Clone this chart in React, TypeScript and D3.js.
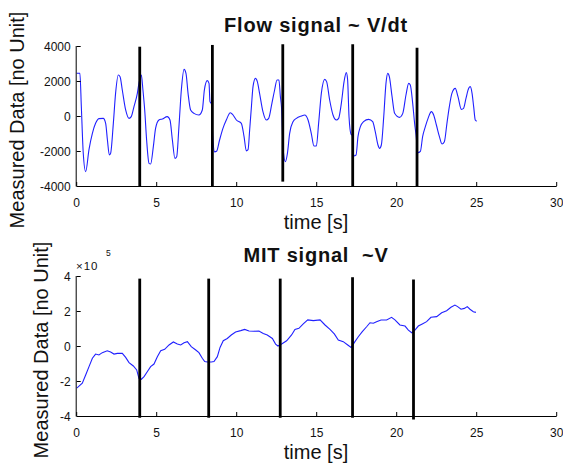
import React from "react";
import * as d3 from "d3";

// Flow signal ~ V/dt
const flowT = [0.0,0.2,0.29,0.41,0.56,0.77,0.98,1.18,1.39,1.66,1.81,1.92,2.04,2.12,2.29,2.43,2.6,2.71,2.85,3.06,3.27,3.41,3.58,3.79,3.89,4.04,4.14,4.25,4.37,4.52,4.62,4.79,4.93,5.14,5.35,5.66,5.83,5.98,6.14,6.25,6.39,6.54,6.71,6.83,6.96,7.12,7.33,7.64,7.85,7.98,8.16,8.27,8.33,8.42,8.5,8.62,8.74,8.93,9.14,9.35,9.6,9.77,9.98,10.29,10.46,10.6,10.71,10.81,10.92,11.02,11.17,11.29,11.43,11.64,11.85,12.0,12.2,12.37,12.52,12.64,12.73,12.8,12.9,13.04,13.17,13.31,13.52,13.73,14.04,14.25,14.46,14.66,14.83,14.98,15.12,15.29,15.5,15.62,15.81,16.02,16.23,16.37,16.54,16.71,16.85,16.93,17.02,17.15,17.22,17.32,17.46,17.58,17.73,17.93,18.25,18.5,18.66,18.83,18.93,19.04,19.19,19.33,19.44,19.54,19.71,19.87,20.17,20.38,20.58,20.75,20.85,21.0,21.12,21.21,21.32,21.48,21.62,21.79,21.96,22.17,22.31,22.48,22.67,22.83,22.98,23.14,23.29,23.45,23.66,23.83,24.04,24.18,24.33,24.5,24.6,24.71,24.81,24.91,25.0];
const flowV = [2440,2440,533,-2133,-3181,-1905,-990,-419,-152,-133,-419,-1371,-2229,-2133,-419,1295,2343,2248,1486,343,-133,-38,533,1295,1867,2343,1486,343,-1371,-2705,-2743,-1752,-705,-229,-171,-38,-229,-1371,-2419,-2324,-610,1486,2667,2438,1295,343,152,57,343,1486,2019,1867,819,700,-1150,-2050,-2019,-1371,-705,-229,190,57,-229,-419,-1181,-1990,-1924,-800,533,1676,2152,1962,1295,248,-229,-133,724,1486,2057,2057,1105,500,-1850,-2610,-2133,-990,-324,-133,0,57,-229,-990,-1714,-1714,-419,1295,2095,1962,914,57,-229,-133,724,1962,2476,2100,-38,-1050,-1100,-2286,-2229,-1181,-610,-324,-190,-324,-895,-1657,-1848,-1657,-38,1867,2438,2248,1105,152,-76,152,1200,1867,1771,724,-419,-1086,-2095,-2019,-1181,-610,-133,248,57,-514,-1181,-1600,-1467,-419,533,1295,1581,1105,381,438,1010,1581,1676,1295,533,-229,-300];

// MIT signal ~V (x 10^5)
const mitT = [0.0,0.04,0.35,0.56,0.77,0.98,1.18,1.39,1.6,1.91,2.12,2.33,2.54,2.85,3.06,3.27,3.54,3.75,3.89,4.04,4.21,4.41,4.62,4.83,5.04,5.25,5.5,5.77,6.04,6.29,6.5,6.71,6.92,7.16,7.44,7.64,7.85,8.0,8.16,8.41,8.58,8.79,8.96,9.16,9.41,9.66,9.93,10.25,10.5,10.77,11.08,11.39,11.66,11.91,12.23,12.43,12.58,12.81,13.12,13.43,13.64,13.89,14.16,14.44,14.79,15.21,15.52,15.83,16.1,16.35,16.66,16.94,17.15,17.39,17.6,17.85,18.12,18.33,18.54,18.74,19.02,19.37,19.68,19.89,20.2,20.52,20.73,20.94,21.14,21.35,21.6,21.87,22.14,22.5,22.81,23.12,23.39,23.64,23.81,24.02,24.23,24.41,24.58,24.79,24.95];
const mitV = [-2.4,-2.38,-2.13,-1.66,-1.18,-0.7,-0.46,-0.51,-0.38,-0.27,-0.34,-0.46,-0.42,-0.42,-0.65,-0.95,-1.14,-1.37,-1.85,-1.9,-1.75,-1.47,-1.18,-1.03,-0.61,-0.27,-0.19,0.06,0.23,0.11,0.06,0.19,0.25,-0.04,-0.23,-0.38,-0.7,-0.89,-0.91,-0.91,-0.89,-0.61,-0.08,0.3,0.43,0.63,0.8,0.88,0.95,0.86,0.84,0.86,0.72,0.63,0.43,0.11,0.0,0.11,0.3,0.63,0.95,1.01,1.26,1.49,1.45,1.49,1.2,0.95,0.69,0.34,0.25,0.06,-0.08,0.25,0.53,0.82,1.1,1.33,1.3,1.39,1.49,1.49,1.64,1.49,1.2,1.14,0.91,0.76,0.91,1.14,1.26,1.39,1.64,1.68,1.9,2.02,2.21,2.34,2.25,2.1,2.15,2.25,2.1,1.96,1.92];

// Breath markers (vertical black lines)
const flowMarkT = [3.94, 8.48, 12.88, 17.25, 21.27];
const flowMarkTop = [3960, 4060, 4100, 4100, 3900];
const flowMarkBottom = [-4040, -4040, -3750, -4040, -4040];
const mitMarkT = [3.94, 8.25, 12.72, 17.24, 21.05];
const mitMarkTop = [3.85, 3.85, 3.85, 3.93, 3.8];
const mitMarkBottom = [-4.1, -4.1, -4.1, -4.1, -4.2];

const xTicks = [0, 5, 10, 15, 20, 25, 30];
const flowYTicks = [-4000, -2000, 0, 2000, 4000];
const mitYTicks = [-4, -2, 0, 2, 4];

const FONT = "'Liberation Sans', Arial, Helvetica, sans-serif";

type PanelProps = {
  top: number;
  title: string;
  t: number[];
  v: number[];
  yDomain: [number, number];
  yTicks: number[];
  markT: number[];
  markTop: number[];
  markBottom: number[];
  curve: d3.CurveFactory;
  labelX: number;
  exponent?: boolean;
};

function Panel({ top, title, t, v, yDomain, yTicks, markT, markTop, markBottom, curve, labelX, exponent }: PanelProps) {
  const left = 76.7, right = 556.7, h = 140;
  const x = d3.scaleLinear().domain([0, 30]).range([left, right]);
  const y = d3.scaleLinear().domain(yDomain).range([top + h, top]);
  const pts = t.map((ti, i) => [ti, v[i]] as [number, number]);
  const line = d3.line<[number, number]>().x(d => x(d[0])).y(d => y(d[1])).curve(curve);
  const axisColor = "#000";
  const txt = "#111";
  return (
    <g>
      <text x={316} y={top - 14} textAnchor="middle" fontFamily={FONT} fontSize={20} fontWeight="bold" letterSpacing={0.8} fill={txt}>{title}</text>
      {exponent && (
        <g fontFamily={FONT} fill={txt}>
          <text x={76} y={top - 6} fontSize={11.5} letterSpacing={1}>×10</text>
          <text x={106} y={top - 20} fontSize={8.5}>5</text>
        </g>
      )}
      <path d={line(pts) || ""} fill="none" stroke="#2020ff" strokeWidth={1.1} />
      {markT.map((mt, i) => (
        <line key={i} x1={x(mt)} x2={x(mt)} y1={y(markTop[i])} y2={y(markBottom[i])} stroke="#000" strokeWidth={2.8} />
      ))}
      <line x1={left} x2={right} y1={top + h + 0.5} y2={top + h + 0.5} stroke={axisColor} strokeWidth={1} />
      <line x1={left - 0.5} x2={left - 0.5} y1={top} y2={top + h + 0.5} stroke={axisColor} strokeWidth={1} />
      {xTicks.map(tk => (
        <g key={tk}>
          <line x1={x(tk)} x2={x(tk)} y1={top + h} y2={top + h - 4} stroke={axisColor} strokeWidth={1} />
          <text x={x(tk)} y={top + h + 21} textAnchor="middle" fontFamily={FONT} fontSize={12} fill={txt}>{tk}</text>
        </g>
      ))}
      {yTicks.map(tk => (
        <g key={tk}>
          <line x1={left} x2={left + 4} y1={y(tk) + 0.5} y2={y(tk) + 0.5} stroke={axisColor} strokeWidth={1} />
          <text x={left - 6} y={y(tk) + 4.5} textAnchor="end" fontFamily={FONT} fontSize={12} fill={txt}>{tk}</text>
        </g>
      ))}
      <text x={316} y={top + h + 43} textAnchor="middle" fontFamily={FONT} fontSize={20} fill={txt}>time [s]</text>
      <text transform={`translate(${labelX},${top + 74}) rotate(-90)`} textAnchor="middle" fontFamily={FONT} fontSize={20} fill={txt}>Measured Data [no Unit]</text>
    </g>
  );
}

export default function App() {
  return (
    <svg width={563} height={465} style={{ position: "absolute", left: 0, top: 0, background: "#fff" }}>
      <rect width={563} height={465} fill="#fff" />
      <Panel top={46} title="Flow signal ~ V/dt" t={flowT} v={flowV} yDomain={[-4000, 4000]} yTicks={flowYTicks}
        markT={flowMarkT} markTop={flowMarkTop} markBottom={flowMarkBottom} curve={d3.curveMonotoneX} labelX={24} />
      <Panel top={276} title={"MIT signal\u00a0\u00a0~V"} t={mitT} v={mitV} yDomain={[-4, 4]} yTicks={mitYTicks}
        markT={mitMarkT} markTop={mitMarkTop} markBottom={mitMarkBottom} curve={d3.curveLinear} labelX={48} exponent />
    </svg>
  );
}
